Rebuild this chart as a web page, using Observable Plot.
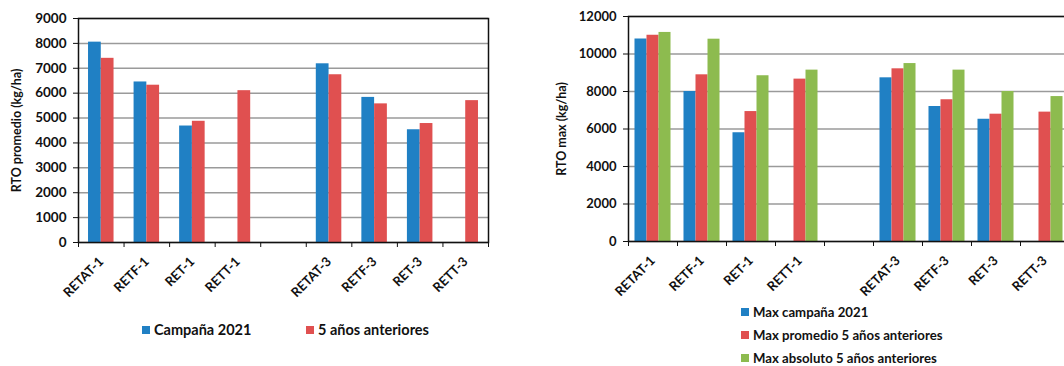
<!DOCTYPE html>
<html>
<head>
<meta charset="utf-8">
<script src="https://cdn.jsdelivr.net/npm/d3@7"></script>
<script src="https://cdn.jsdelivr.net/npm/@observablehq/plot@0.6"></script>
<style>
  html, body { margin: 0; padding: 0; background: #fff; }
  #page { position: relative; width: 1064px; height: 366px; overflow: hidden; font-family: Lato, "Open Sans", sans-serif; }
  #left { position: absolute; left: 0; top: 0; width: 520px; }
  #right { position: absolute; left: 540px; top: 0; width: 540px; }
  #page svg { max-width: none !important; }
  .legend { position: absolute; left: 0; top: 0; font-family: Lato, sans-serif; font-weight: bold; color: #111; }
  .legend .item { position: absolute; white-space: nowrap; display: flex; align-items: center; }
  .legend .sw { width: 8px; height: 8px; margin-right: 4px; display: inline-block; }
</style>
</head>
<body>
<div id="page">
  <div id="left"></div>
  <div id="right"></div>
  <div class="legend" id="legLeft" style="font-size:14.5px"></div>
  <div class="legend" id="legRight" style="font-size:13.2px"></div>
</div>
<script>
// ---- data ----
const categories = ["RETAT-1", "RETF-1", "RET-1", "RETT-1", "", "RETAT-3", "RETF-3", "RET-3", "RETT-3"];

const leftSeries = ["Campaña 2021", "5 años anteriores"];
const campana2021 = [8050, 6450, 4680, null, null, 7180, 5830, 4530, null];
const anteriores5 = [7400, 6320, 4870, 6100, null, 6740, 5570, 4780, 5700];
const leftTicks = [0, 1000, 2000, 3000, 4000, 5000, 6000, 7000, 8000, 9000];

const rightSeries = ["Max campaña 2021", "Max promedio 5 años anteriores", "Max absoluto 5 años anteriores"];
const maxCampana2021 = [10800, 8000, 5800, null, null, 8730, 7200, 6520, null];
const maxPromedio5 = [11000, 8890, 6930, 8660, null, 9210, 7560, 6790, 6900];
const maxAbsoluto5 = [11150, 10790, 8840, 9140, null, 9490, 9140, 8000, 7730];
const rightTicks = [0, 2000, 4000, 6000, 8000, 10000, 12000];

const leftColors = ["#2080c4", "#e05050"];
const rightColors = ["#2080c4", "#e05050", "#8dbb4f"];

// ---- helpers ----
function buildRows(seriesNames, seriesValues) {
  const rows = [];
  seriesValues.forEach((vals, s) => {
    vals.forEach((v, i) => {
      if (v != null) rows.push({i, s, n: seriesNames.length, series: seriesNames[s], cat: categories[i], value: v});
    });
  });
  return rows;
}

function makeChart({rows, seriesNames, colors, ticks, yMax, label, width, height, marginLeft, marginRight, marginTop, marginBottom, barW, tickFont, labelDx}) {
  const nCat = categories.length;
  return Plot.plot({
    width, height, marginLeft, marginRight, marginTop, marginBottom,
    style: {fontFamily: "Lato, 'Open Sans', sans-serif", fontWeight: "bold", color: "#111", background: "#fff", maxWidth: "none"},
    x: {domain: [0, nCat]},
    y: {domain: [0, yMax]},
    color: {domain: seriesNames, range: colors},
    marks: [
      Plot.gridY(ticks, {stroke: "#9a9a9a", strokeOpacity: 1, strokeWidth: 1.5}),
      Plot.rectY(rows, {
        x1: d => d.i + 0.5 + (d.s - d.n / 2) * barW,
        x2: d => d.i + 0.5 + (d.s - d.n / 2 + 1) * barW,
        y: "value",
        fill: "series"
      }),
      Plot.frame({stroke: "#111", strokeWidth: 1.5}),
      Plot.axisY({ticks, tickSize: 5, tickPadding: 7, fontSize: tickFont, stroke: "#111", label: null, tickFormat: d => String(d)}),
      Plot.axisX({ticks: d3.range(0, nCat + 1), tickSize: 5, tickFormat: () => "", label: null, stroke: "#111"}),
      Plot.axisX({
        ticks: d3.range(0, nCat).map(i => i + 0.5),
        tickSize: 0, tickPadding: 17, tickRotate: -45,
        tickFormat: v => categories[Math.floor(v)],
        fontSize: 13, label: null
      }),
      Plot.text([label], {frameAnchor: "left", dx: labelDx, rotate: -90, textAnchor: "middle", fontSize: 12.5, fontWeight: "bold", fill: "#111"})
    ]
  });
}

document.getElementById("left").append(makeChart({
  rows: buildRows(leftSeries, [campana2021, anteriores5]),
  seriesNames: leftSeries, colors: leftColors, ticks: leftTicks, yMax: 9000,
  label: "RTO promedio (kg/ha)",
  width: 520, height: 300, marginLeft: 78, marginRight: 32, marginTop: 18, marginBottom: 58,
  barW: 0.28, tickFont: 13.5, labelDx: -62
}));

document.getElementById("right").append(makeChart({
  rows: buildRows(rightSeries, [maxCampana2021, maxPromedio5, maxAbsoluto5]),
  seriesNames: rightSeries, colors: rightColors, ticks: rightTicks, yMax: 12000,
  label: "RTO max (kg/ha)",
  width: 540, height: 300, marginLeft: 88, marginRight: 11, marginTop: 16, marginBottom: 59,
  barW: 0.245, tickFont: 13, labelDx: -67
}));

// ---- legends ----
function legend(el, names, colors, positions) {
  names.forEach((name, k) => {
    const item = document.createElement("div");
    item.className = "item";
    item.style.left = positions[k][0] + "px";
    item.style.top = positions[k][1] + "px";
    const sw = document.createElement("span");
    sw.className = "sw";
    sw.style.background = colors[k];
    item.append(sw, document.createTextNode(name));
    el.append(item);
  });
}
legend(document.getElementById("legLeft"), leftSeries, leftColors, [[142, 321], [306, 321]]);
legend(document.getElementById("legRight"), rightSeries, rightColors, [[741, 304], [741, 327], [741, 350]]);
</script>
</body>
</html>
